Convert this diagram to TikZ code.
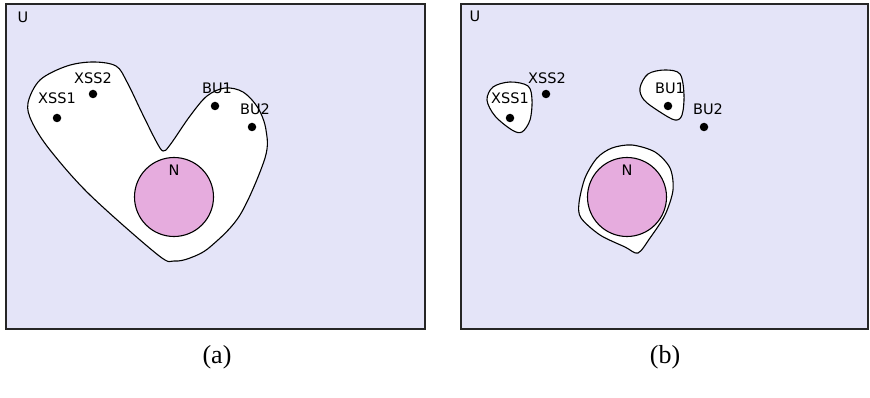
\documentclass[tikz,border=0pt]{standalone}
\usepackage{fontspec}
\setmainfont{Liberation Serif}
\newfontfamily\labelfont{DejaVu Sans}
\usepackage{xcolor}
\definecolor{universe}{RGB}{228,228,248}
\definecolor{npink}{RGB}{230,172,222}

\tikzset{
  panel/.style={draw=black!85, line width=1.3pt, fill=universe},
  region/.style={draw=black, line width=1.1pt, fill=white},
  nset/.style={circle, draw=black, line width=1.1pt, fill=npink, inner sep=0pt, minimum size=79pt},
  elem/.style={circle, fill=black, inner sep=0pt, minimum size=8.5pt},
  lbl/.style={font=\labelfont\fontsize{14.5}{14.5}\selectfont, inner sep=0pt},
  caption/.style={font=\fontsize{26}{26}\selectfont, inner sep=0pt}
}

\begin{document}
\begin{tikzpicture}[x=1pt, y=-1pt]
  \useasboundingbox (0,0) rectangle (870,398);
  % Panels
  \draw[panel] (6,4) rectangle (425,329);
  \draw[panel] (461,4) rectangle (868,329);
  \node[lbl] (ua) at (23,17) {U};
  \node[lbl] (ub) at (475,16) {U};

  % (a) one region holding everything
  \draw[region] plot[smooth cycle, tension=0.55] coordinates {
    (28,103) (40,80) (67,66) (93,62) (116,66) (127,82) (142,113) (156,141)
    (163,151) (170,145) (190,116) (207,96) (225,88) (243,92) (258,108)
    (266,130) (265,158) (240,215) (210,247) (190,258) (174,261) (158,255)
    (90,195) (50,150) (32,122)};
  \node[nset] (na) at (174,197) {};
  \node[lbl] at (174,170) {N};
  \node[elem] (xssa1) at (57,118) {};
  \node[elem] (xssa2) at (93,94) {};
  \node[elem] (bua1) at (215,106) {};
  \node[elem] (bua2) at (252,127) {};
  \node[lbl] at (57,98) {XSS1};
  \node[lbl] at (93,78) {XSS2};
  \node[lbl] at (217,88) {BU1};
  \node[lbl] at (255,109) {BU2};

  % (b) small separate regions
  \draw[region] plot[smooth cycle, tension=0.55] coordinates {
    (487,100) (493,87) (510,82) (528,86) (532,100) (530,120) (522,132)
    (512,130) (495,116)};
  \draw[region] plot[smooth cycle, tension=0.55] coordinates {
    (640,88) (648,74) (665,70) (680,74) (684,95) (682,115) (675,120)
    (660,112) (644,100)};
  \draw[region] plot[smooth cycle, tension=0.5] coordinates {
    (632,145) (655,152) (670,168) (673,190) (665,215) (650,238) (638,253)
    (625,247) (600,235) (581,218) (579,203) (585,178) (597,158) (612,148)};
  \node[nset] (nb) at (627,197) {};
  \node[lbl] at (627,170) {N};
  \node[elem] (xssb1) at (510,118) {};
  \node[elem] (xssb2) at (546,94) {};
  \node[elem] (bub1) at (668,106) {};
  \node[elem] (bub2) at (704,127) {};
  \node[lbl] at (510,98) {XSS1};
  \node[lbl] at (547,78) {XSS2};
  \node[lbl] at (670,88) {BU1};
  \node[lbl] at (708,109) {BU2};

  % Captions
  \node[caption] (capa) at (217,357) {(a)};
  \node[caption] (capb) at (665,357) {(b)};
\end{tikzpicture}
\end{document}
